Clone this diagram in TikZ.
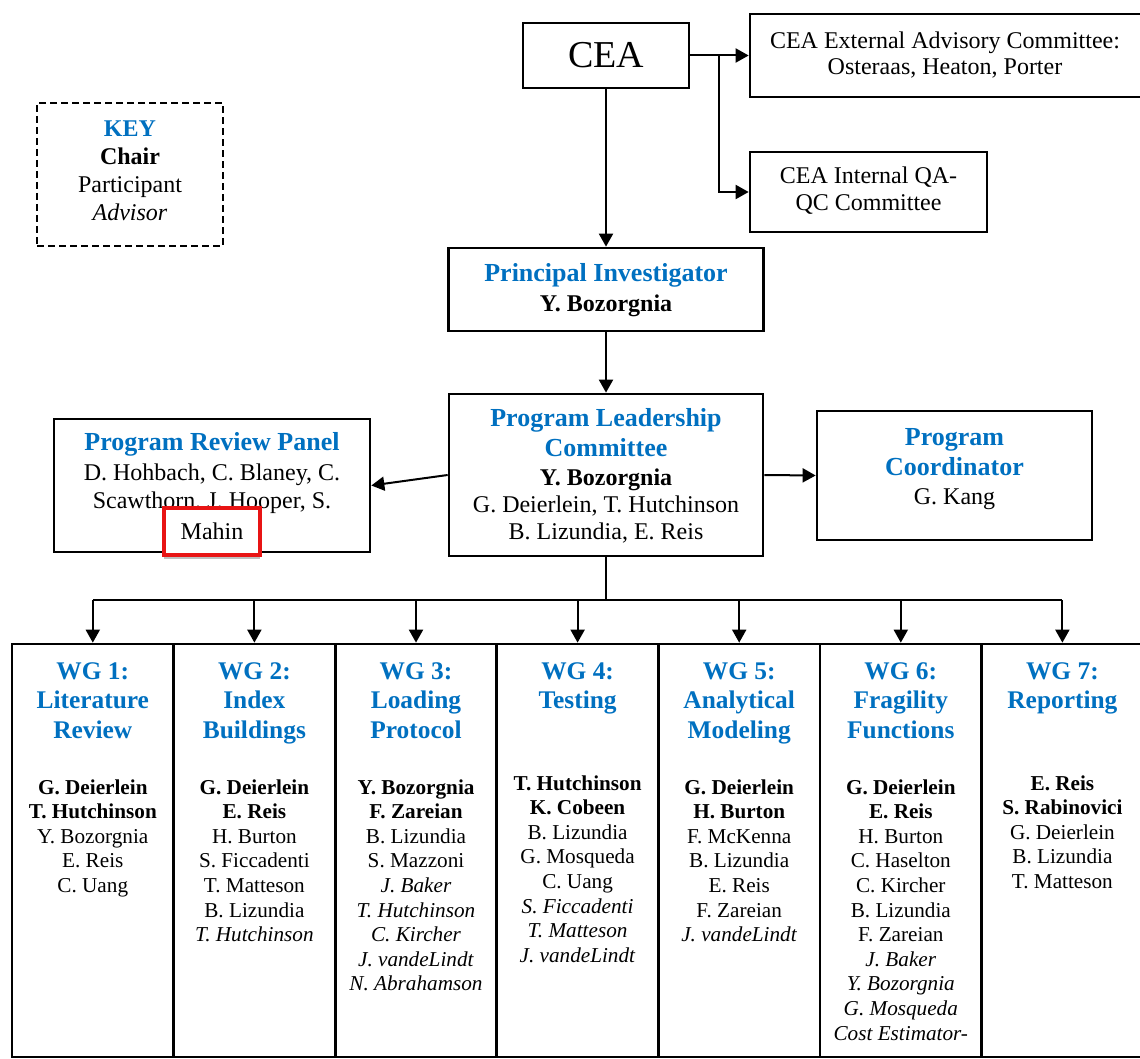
\documentclass[tikz,border=0pt]{standalone}
\usepackage{fontspec}
\setmainfont{Liberation Serif}
\usepackage{tikz}
\usetikzlibrary{arrows.meta,shadows}
\usetikzlibrary{positioning}
\definecolor{titleblue}{RGB}{0,112,192}
\definecolor{markred}{RGB}{232,20,20}
\tikzset{
    box/.style={
           rectangle,
           draw=black, line width=1.35pt,
           inner sep=0pt,
           },
}
\tikzset{
    keybox/.style={
           rectangle,
           draw=black, line width=0.9pt,
           dash pattern=on 3.5pt off 2pt,
           inner sep=0pt,
           },
}
\tikzset{
    ttl/.style={
           font=\fontsize{13}{15}\selectfont\bfseries,
           text=titleblue, align=center,
           inner sep=0pt,
           },
    nms/.style={
           font=\fontsize{12}{13.5}\selectfont,
           align=center,
           inner sep=0pt,
           },
    wgttl/.style={
           font=\fontsize{12.7}{14.75}\selectfont\bfseries,
           text=titleblue, align=center,
           inner sep=0pt, anchor=north,
           },
    wgnms/.style={
           font=\fontsize{10.6}{12.3}\selectfont,
           align=center,
           inner sep=0pt, anchor=north,
           },
    arr/.style={line width=1pt, -{Triangle[length=6.5pt,width=7pt]}},
    link/.style={line width=1pt},
}

\begin{document}
\begin{tikzpicture}[x=0.5pt,y=-0.5pt]
\useasboundingbox (0,0) rectangle (1140,1059);

\node[keybox, minimum width=93pt, minimum height=71.5pt] (key) at (130,174.5) {};
\node[nms, font=\fontsize{12}{14}\selectfont] (keytext) at (130,171) {{\bfseries\color{titleblue}KEY}\\\textbf{Chair}\\Participant\\\textit{Advisor}};

\node[box, minimum width=83pt, minimum height=32.5pt, font=\fontsize{19}{22}\selectfont] (cea) at (606,55.5) {CEA};
\node[box, minimum width=197.5pt, minimum height=41.5pt] (ext) at (947.5,55.5) {};
\node[nms, font=\fontsize{12}{13}\selectfont] (exttext) at (945,55) {CEA External Advisory Committee:\\Osteraas, Heaton, Porter};
\node[box, minimum width=118.5pt, minimum height=40pt] (qa) at (868.5,192) {};
\node[nms] (qatext) at (868.5,191) {CEA Internal QA-\\QC Committee};

\node[box, minimum width=157.5pt, minimum height=41.5pt] (pi) at (606,289.5) {};
\node[ttl] (pititle) at (606,290.5) {Principal Investigator\\{\color{black}\fontsize{12}{15}\selectfont Y. Bozorgnia}};

\node[box, minimum width=157pt, minimum height=81pt] (plc) at (606,475) {};
\node[ttl] (plctitle) at (606,433) {Program Leadership\\Committee};
\node[nms] (plctext) at (606,506) {\textbf{Y. Bozorgnia}\\G. Deierlein, T. Hutchinson\\B. Lizundia, E. Reis};

\node[box, minimum width=158pt, minimum height=66.5pt] (prp) at (212,485.5) {};
\node[ttl] (prptitle) at (212,444) {Program Review Panel};
\node[nms, font=\fontsize{12}{14}\selectfont] (prptext) at (212,489) {D. Hohbach, C. Blaney, C.\\Scawthorn, J. Hooper, S.};
\node[draw=markred, line width=2pt, fill=white, minimum width=48pt, minimum height=23.5pt, inner sep=0pt,
      font=\fontsize{12}{14}\selectfont,
      drop shadow={shadow xshift=0pt, shadow yshift=-2pt, opacity=0.25, fill=black}] (mahin) at (212,531.5) {Mahin};

\node[box, minimum width=137.5pt, minimum height=64.5pt] (pc) at (954.5,475.5) {};
\node[ttl] (pctitle) at (954.5,452) {Program\\Coordinator};
\node[nms] (pctext) at (954.5,499.5) {G. Kang};

\node[box, minimum width=80.8pt, minimum height=206.5pt] (wg1) at (92.8,850.5) {};
\node[box, minimum width=80.8pt, minimum height=206.5pt] (wg2) at (254.4,850.5) {};
\node[box, minimum width=80.8pt, minimum height=206.5pt] (wg3) at (416,850.5) {};
\node[box, minimum width=80.8pt, minimum height=206.5pt] (wg4) at (577.6,850.5) {};
\node[box, minimum width=80.8pt, minimum height=206.5pt] (wg5) at (739.2,850.5) {};
\node[box, minimum width=80.8pt, minimum height=206.5pt] (wg6) at (900.8,850.5) {};
\node[box, minimum width=80.8pt, minimum height=206.5pt] (wg7) at (1062.4,850.5) {};

\node[wgttl] (wg1title) at (92.8,662) {WG 1:\\Literature\\Review};
\node[wgttl] (wg2title) at (254.4,662) {WG 2:\\Index\\Buildings};
\node[wgttl] (wg3title) at (416,662) {WG 3:\\Loading\\Protocol};
\node[wgttl] (wg4title) at (577.6,662) {WG 4:\\Testing};
\node[wgttl] (wg5title) at (739.2,662) {WG 5:\\Analytical\\Modeling};
\node[wgttl] (wg6title) at (900.8,662) {WG 6:\\Fragility\\Functions};
\node[wgttl] (wg7title) at (1062.4,662) {WG 7:\\Reporting};

\node[wgnms] (wg1text) at (92.8,779) {\textbf{G. Deierlein}\\\textbf{T. Hutchinson}\\Y. Bozorgnia\\E. Reis\\C. Uang};
\node[wgnms] (wg2text) at (254.4,779) {\textbf{G. Deierlein}\\\textbf{E. Reis}\\H. Burton\\S. Ficcadenti\\T. Matteson\\B. Lizundia\\\textit{T. Hutchinson}};
\node[wgnms] (wg3text) at (416,779) {\textbf{Y. Bozorgnia}\\\textbf{F. Zareian}\\B. Lizundia\\S. Mazzoni\\\textit{J. Baker}\\\textit{T. Hutchinson}\\\textit{C. Kircher}\\\textit{J. vandeLindt}\\\textit{N. Abrahamson}};
\node[wgnms] (wg4text) at (577.6,775) {\textbf{T. Hutchinson}\\\textbf{K. Cobeen}\\B. Lizundia\\G. Mosqueda\\C. Uang\\\textit{S. Ficcadenti}\\\textit{T. Matteson}\\\textit{J. vandeLindt}};
\node[wgnms] (wg5text) at (739.2,779) {\textbf{G. Deierlein}\\\textbf{H. Burton}\\F. McKenna\\B. Lizundia\\E. Reis\\F. Zareian\\\textit{J. vandeLindt}};
\node[wgnms] (wg6text) at (900.8,779) {\textbf{G. Deierlein}\\\textbf{E. Reis}\\H. Burton\\C. Haselton\\C. Kircher\\B. Lizundia\\F. Zareian\\\textit{J. Baker}\\\textit{Y. Bozorgnia}\\\textit{G. Mosqueda}\\\textit{Cost Estimator-}};
\node[wgnms] (wg7text) at (1062.4,775) {\textbf{E. Reis}\\\textbf{S. Rabinovici}\\G. Deierlein\\B. Lizundia\\T. Matteson};

\coordinate (split) at (719,55.5);
\coordinate (bus) at (606,600);

\draw[arr] (cea.south) -- (pi.north);
\draw[arr] (cea.east) -- (ext.west);
\draw[arr] (split) |- (qa.west);
\draw[arr] (pi.south) -- (plc.north);
\draw[arr] (plc.west) -- (prp.east);
\draw[arr] (plc.east) -- (pc.west);
\draw[link] (plc.south) -- (bus);
\draw[link] (bus -| wg1.north) -- (bus -| wg7.north);
\draw[arr] (bus -| wg1.north) -- (wg1.north);
\draw[arr] (bus -| wg2.north) -- (wg2.north);
\draw[arr] (bus -| wg3.north) -- (wg3.north);
\draw[arr] (bus -| wg4.north) -- (wg4.north);
\draw[arr] (bus -| wg5.north) -- (wg5.north);
\draw[arr] (bus -| wg6.north) -- (wg6.north);
\draw[arr] (bus -| wg7.north) -- (wg7.north);
\end{tikzpicture}
\end{document}
